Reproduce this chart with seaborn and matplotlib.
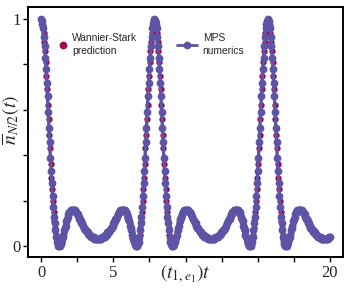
import numpy as np
import matplotlib
matplotlib.use("Agg")
import matplotlib.pyplot as plt
from matplotlib.lines import Line2D
import seaborn as sns

# ---------------- data ----------------
# MPS numerics, sampled every 0.05 time units starting at t = 0
mps_step = 0.05
mps_n = [
    # first period
    1.00, 0.99, 0.98, 0.96, 0.92, 0.88, 0.83, 0.78, 0.72, 0.66,
    0.59, 0.52, 0.46, 0.39, 0.33, 0.28, 0.22, 0.17, 0.13, 0.10,
    0.07, 0.04, 0.02, 0.01, 0.00, 0.00, 0.00, 0.01, 0.02, 0.03,
    0.04, 0.05, 0.07, 0.08, 0.09, 0.11, 0.12, 0.13, 0.14, 0.15,
    0.15, 0.16, 0.16, 0.16, 0.16, 0.16, 0.16, 0.16, 0.15, 0.15,
    0.14, 0.14, 0.13, 0.12, 0.12, 0.11, 0.10, 0.10, 0.09, 0.08,
    0.08, 0.07, 0.07, 0.06, 0.06, 0.06, 0.05, 0.05, 0.05, 0.04,
    0.04, 0.04, 0.04, 0.04, 0.03, 0.03, 0.03, 0.03, 0.03,
    0.03, 0.03, 0.03, 0.03, 0.03, 0.04, 0.04, 0.04, 0.04,
    0.04, 0.05, 0.05, 0.05, 0.06, 0.06, 0.06, 0.07, 0.07, 0.08,
    0.08, 0.09, 0.10, 0.10, 0.11, 0.12, 0.12, 0.13, 0.14, 0.14,
    0.15, 0.15, 0.16, 0.16, 0.16, 0.16, 0.16, 0.16, 0.16, 0.15,
    0.15, 0.14, 0.13, 0.12, 0.11, 0.09, 0.08, 0.07, 0.05, 0.04,
    0.03, 0.02, 0.01, 0.00, 0.00, 0.00, 0.01, 0.02, 0.04, 0.07,
    0.10, 0.13, 0.17, 0.22, 0.28, 0.33, 0.39, 0.46, 0.52, 0.59,
    0.66, 0.72, 0.78, 0.83, 0.88, 0.92, 0.96, 0.98, 0.99, 1.00,
    # second period
    0.99, 0.98, 0.96, 0.92, 0.88, 0.83, 0.78, 0.72, 0.66,
    0.59, 0.52, 0.46, 0.39, 0.33, 0.28, 0.22, 0.17, 0.13, 0.10,
    0.07, 0.04, 0.02, 0.01, 0.00, 0.00, 0.00, 0.01, 0.02, 0.03,
    0.04, 0.05, 0.07, 0.08, 0.09, 0.11, 0.12, 0.13, 0.14, 0.15,
    0.15, 0.16, 0.16, 0.16, 0.16, 0.16, 0.16, 0.16, 0.15, 0.15,
    0.14, 0.14, 0.13, 0.12, 0.12, 0.11, 0.10, 0.10, 0.09, 0.08,
    0.08, 0.07, 0.07, 0.06, 0.06, 0.06, 0.05, 0.05, 0.05, 0.04,
    0.04, 0.04, 0.04, 0.04, 0.03, 0.03, 0.03, 0.03, 0.03,
    0.03, 0.03, 0.03, 0.03, 0.03, 0.04, 0.04, 0.04, 0.04,
    0.04, 0.05, 0.05, 0.05, 0.06, 0.06, 0.06, 0.07, 0.07, 0.08,
    0.08, 0.09, 0.10, 0.10, 0.11, 0.12, 0.12, 0.13, 0.14, 0.14,
    0.15, 0.15, 0.16, 0.16, 0.16, 0.16, 0.16, 0.16, 0.16, 0.15,
    0.15, 0.14, 0.13, 0.12, 0.11, 0.09, 0.08, 0.07, 0.05, 0.04,
    0.03, 0.02, 0.01, 0.00, 0.00, 0.00, 0.01, 0.02, 0.04, 0.07,
    0.10, 0.13, 0.17, 0.22, 0.28, 0.33, 0.39, 0.46, 0.52, 0.59,
    0.66, 0.72, 0.78, 0.83, 0.88, 0.92, 0.96, 0.98, 0.99, 1.00,
    # third period
    0.99, 0.98, 0.96, 0.92, 0.88, 0.83, 0.78, 0.72, 0.66,
    0.59, 0.52, 0.46, 0.39, 0.33, 0.28, 0.22, 0.17, 0.13, 0.10,
    0.07, 0.04, 0.02, 0.01, 0.00, 0.00, 0.00, 0.01, 0.02, 0.03,
    0.04, 0.05, 0.07, 0.08, 0.09, 0.11, 0.12, 0.13, 0.14, 0.15,
    0.15, 0.16, 0.16, 0.16, 0.16, 0.16, 0.16, 0.16, 0.15, 0.15,
    0.14, 0.14, 0.13, 0.12, 0.12, 0.11, 0.10, 0.10, 0.09, 0.08,
    0.08, 0.07, 0.07, 0.06, 0.06, 0.06, 0.05, 0.05, 0.05, 0.04,
    0.04, 0.04, 0.04, 0.04, 0.03, 0.03, 0.03, 0.03, 0.03,
    0.03, 0.03, 0.03, 0.03, 0.03, 0.04, 0.04, 0.04,
]

# Wannier-Stark prediction, sampled every 0.05 starting at t = 0.025
ws_start = 0.025
ws_step = 0.05
ws_n = [
    # first period
    1.00, 0.99, 0.97, 0.94, 0.90, 0.86, 0.81, 0.75, 0.69, 0.62,
    0.56, 0.49, 0.43, 0.36, 0.30, 0.25, 0.20, 0.15, 0.11, 0.08,
    0.05, 0.03, 0.02, 0.01, 0.00, 0.00, 0.00, 0.01, 0.02, 0.03,
    0.04, 0.06, 0.07, 0.09, 0.10, 0.11, 0.12, 0.13, 0.14, 0.15,
    0.15, 0.16, 0.16, 0.16, 0.16, 0.16, 0.16, 0.15, 0.15, 0.14,
    0.14, 0.13, 0.13, 0.12, 0.11, 0.11, 0.10, 0.09, 0.09, 0.08,
    0.08, 0.07, 0.07, 0.06, 0.06, 0.05, 0.05, 0.05, 0.04, 0.04,
    0.04, 0.04, 0.04, 0.03, 0.03, 0.03, 0.03, 0.03, 0.03,
    0.03, 0.03, 0.03, 0.03, 0.03, 0.04, 0.04, 0.04,
    0.04, 0.04, 0.05, 0.05, 0.05, 0.06, 0.06, 0.07, 0.07, 0.08,
    0.08, 0.09, 0.09, 0.10, 0.11, 0.11, 0.12, 0.13, 0.13, 0.14,
    0.14, 0.15, 0.15, 0.16, 0.16, 0.16, 0.16, 0.16, 0.16, 0.15,
    0.15, 0.14, 0.13, 0.12, 0.11, 0.10, 0.09, 0.07, 0.06, 0.04,
    0.03, 0.02, 0.01, 0.00, 0.00, 0.00, 0.01, 0.02, 0.03, 0.05,
    0.08, 0.11, 0.15, 0.20, 0.25, 0.30, 0.36, 0.43, 0.49, 0.56,
    0.62, 0.69, 0.75, 0.81, 0.86, 0.90, 0.94, 0.97, 0.99, 1.00,
    # second period
    1.00, 0.99, 0.97, 0.94, 0.90, 0.86, 0.81, 0.75, 0.69, 0.62,
    0.56, 0.49, 0.43, 0.36, 0.30, 0.25, 0.20, 0.15, 0.11, 0.08,
    0.05, 0.03, 0.02, 0.01, 0.00, 0.00, 0.00, 0.01, 0.02, 0.03,
    0.04, 0.06, 0.07, 0.09, 0.10, 0.11, 0.12, 0.13, 0.14, 0.15,
    0.15, 0.16, 0.16, 0.16, 0.16, 0.16, 0.16, 0.15, 0.15, 0.14,
    0.14, 0.13, 0.13, 0.12, 0.11, 0.11, 0.10, 0.09, 0.09, 0.08,
    0.08, 0.07, 0.07, 0.06, 0.06, 0.05, 0.05, 0.05, 0.04, 0.04,
    0.04, 0.04, 0.04, 0.03, 0.03, 0.03, 0.03, 0.03, 0.03,
    0.03, 0.03, 0.03, 0.03, 0.03, 0.04, 0.04, 0.04,
    0.04, 0.04, 0.05, 0.05, 0.05, 0.06, 0.06, 0.07, 0.07, 0.08,
    0.08, 0.09, 0.09, 0.10, 0.11, 0.11, 0.12, 0.13, 0.13, 0.14,
    0.14, 0.15, 0.15, 0.16, 0.16, 0.16, 0.16, 0.16, 0.16, 0.15,
    0.15, 0.14, 0.13, 0.12, 0.11, 0.10, 0.09, 0.07, 0.06, 0.04,
    0.03, 0.02, 0.01, 0.00, 0.00, 0.00, 0.01, 0.02, 0.03, 0.05,
    0.08, 0.11, 0.15, 0.20, 0.25, 0.30, 0.36, 0.43, 0.49, 0.56,
    0.62, 0.69, 0.75, 0.81, 0.86, 0.90, 0.94, 0.97, 0.99, 1.00,
    # third period
    1.00, 0.99, 0.97, 0.94, 0.90, 0.86, 0.81, 0.75, 0.69, 0.62,
    0.56, 0.49, 0.43, 0.36, 0.30, 0.25, 0.20, 0.15, 0.11, 0.08,
    0.05, 0.03, 0.02, 0.01, 0.00, 0.00, 0.00, 0.01, 0.02, 0.03,
    0.04, 0.06, 0.07, 0.09, 0.10, 0.11, 0.12, 0.13, 0.14, 0.15,
    0.15, 0.16, 0.16, 0.16, 0.16, 0.16, 0.16, 0.15, 0.15, 0.14,
    0.14, 0.13, 0.13, 0.12, 0.11, 0.11, 0.10, 0.09, 0.09, 0.08,
    0.08, 0.07, 0.07, 0.06, 0.06, 0.05, 0.05, 0.05, 0.04, 0.04,
    0.04, 0.04, 0.04, 0.03, 0.03, 0.03, 0.03, 0.03, 0.03,
    0.03, 0.03, 0.03, 0.03, 0.03, 0.04, 0.04,
]

x_ticks = [0, 2.5, 5, 7.5, 10, 12.5, 15, 17.5, 20]
x_tick_labels = ["0", "", "5", "", "", "", "", "", "20"]
y_ticks = [0, 0.2, 0.4, 0.6, 0.8, 1.0]
y_tick_labels = ["0", "", "", "", "", "1"]
ws_label = "Wannier-Stark\nprediction"
mps_label = "MPS\nnumerics"

PURPLE = "#5d54a6"
CRIMSON = "#a00a44"

mps_t = np.arange(len(mps_n)) * mps_step
ws_t = ws_start + np.arange(len(ws_n)) * ws_step

# ---------------- plot ----------------
sns.set_style("ticks")
plt.rcParams["mathtext.fontset"] = "stix"

fig = plt.figure(figsize=(3.53, 2.88), dpi=100)
ax = fig.add_axes([28 / 353, 1 - 257 / 288, (343 - 28) / 353, (257 - 7) / 288])

sns.scatterplot(x=ws_t, y=ws_n, color=CRIMSON, s=21, linewidth=0,
                ax=ax, zorder=2, legend=False)
sns.lineplot(x=mps_t, y=mps_n, color=PURPLE, linewidth=2.4, marker="o",
             markersize=5.6, markeredgewidth=0, ax=ax, zorder=3,
             legend=False, errorbar=None)

ax.set_xlim(-0.9, 20.9)
ax.set_ylim(-0.048, 1.053)
ax.set_xticks(x_ticks)
ax.set_xticklabels(x_tick_labels, fontfamily="Liberation Serif", fontsize=12)
ax.set_yticks(y_ticks)
ax.set_yticklabels(y_tick_labels, fontfamily="Liberation Serif", fontsize=12)
ax.tick_params(direction="out", length=3.5, width=1.0, color="black", pad=2)

for sp in ax.spines.values():
    sp.set_visible(True)
    sp.set_linewidth(1.4)
    sp.set_color("black")

ax.set_xlabel(r"$(t_{1,e_1})t$", fontsize=14, va="center")
ax.xaxis.set_label_coords(0.5, -0.066)
ax.set_ylabel(r"$\overline{n}_{N/2}(t)$", fontsize=14, va="center")
ax.yaxis.set_label_coords(-0.055, 0.55)

leg_font = {"family": "Liberation Sans", "size": 7.4}
h_ws = Line2D([], [], linestyle="none", marker="o", markersize=5.6,
              markerfacecolor=CRIMSON, markeredgewidth=0)
h_mps = Line2D([], [], color=PURPLE, linewidth=2.0, marker="o",
               markersize=5.6, markerfacecolor=PURPLE, markeredgewidth=0)
leg1 = ax.legend([h_ws], [ws_label], loc="upper left",
                 bbox_to_anchor=(0.095, 0.895), frameon=False, borderpad=0,
                 borderaxespad=0, handlelength=1.0, handletextpad=0.4,
                 labelspacing=0.3, prop=leg_font)
for t in leg1.get_texts():
    t.set_linespacing(1.35)
ax.add_artist(leg1)
leg2 = ax.legend([h_mps], [mps_label], loc="upper left",
                 bbox_to_anchor=(0.473, 0.895), frameon=False, borderpad=0,
                 borderaxespad=0, handlelength=1.9, handletextpad=0.6,
                 numpoints=1, prop=leg_font)
for t in leg2.get_texts():
    t.set_linespacing(1.35)

fig.savefig("out.png", dpi=100)
